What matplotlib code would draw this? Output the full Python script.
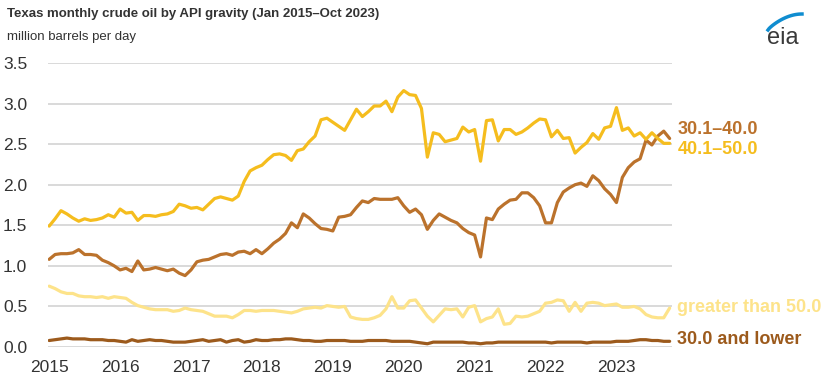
import matplotlib
matplotlib.use("Agg")
import matplotlib.pyplot as plt
import numpy as np
from matplotlib.lines import Line2D

plt.rcParams["font.family"] = ["Liberation Sans", "DejaVu Sans"]

# monthly values, Jan 2015 .. Oct 2023 (million barrels per day)
year_labels = ["2015", "2016", "2017", "2018", "2019", "2020", "2021", "2022", "2023"]

api_40_50 = [
    1.49, 1.58, 1.68, 1.64, 1.59, 1.55, 1.58, 1.56, 1.57, 1.59, 1.63, 1.60,
    1.70, 1.65, 1.66, 1.56, 1.62, 1.62, 1.61, 1.63, 1.64, 1.67, 1.76, 1.74,
    1.71, 1.72, 1.69, 1.76, 1.83, 1.85, 1.83, 1.81, 1.86, 2.04, 2.17, 2.21,
    2.24, 2.31, 2.37, 2.38, 2.36, 2.30, 2.42, 2.44, 2.53, 2.60, 2.80, 2.82,
    2.77, 2.72, 2.67, 2.80, 2.93, 2.84, 2.90, 2.97, 2.97, 3.03, 2.90, 3.08,
    3.16, 3.11, 3.10, 2.94, 2.34, 2.64, 2.62, 2.53, 2.55, 2.57, 2.71, 2.65,
    2.68, 2.29, 2.79, 2.80, 2.54, 2.68, 2.68, 2.62, 2.65, 2.70, 2.76, 2.81,
    2.80, 2.59, 2.67, 2.57, 2.58, 2.39, 2.46, 2.52, 2.63, 2.56, 2.70, 2.72,
    2.95, 2.67, 2.70, 2.60, 2.64, 2.56, 2.64, 2.57, 2.51, 2.51,
]

api_30_40 = [
    1.08, 1.14, 1.15, 1.15, 1.16, 1.20, 1.14, 1.14, 1.13, 1.07, 1.04, 1.00,
    0.95, 0.97, 0.93, 1.06, 0.95, 0.96, 0.98, 0.96, 0.94, 0.96, 0.91, 0.88,
    0.95, 1.05, 1.07, 1.08, 1.11, 1.14, 1.15, 1.13, 1.17, 1.18, 1.15, 1.20,
    1.15, 1.21, 1.28, 1.33, 1.40, 1.53, 1.47, 1.64, 1.59, 1.52, 1.46, 1.45,
    1.43, 1.60, 1.61, 1.63, 1.72, 1.80, 1.78, 1.83, 1.82, 1.82, 1.82, 1.84,
    1.74, 1.66, 1.70, 1.63, 1.45, 1.56, 1.64, 1.60, 1.56, 1.53, 1.46, 1.41,
    1.38, 1.11, 1.59, 1.57, 1.70, 1.76, 1.81, 1.82, 1.90, 1.90, 1.84, 1.74,
    1.53, 1.53, 1.78, 1.91, 1.96, 2.00, 2.02, 1.98, 2.11, 2.05, 1.95, 1.88,
    1.78, 2.09, 2.21, 2.28, 2.32, 2.55, 2.49, 2.60, 2.66, 2.57,
]

api_over_50 = [
    0.75, 0.72, 0.68, 0.66, 0.66, 0.63, 0.62, 0.62, 0.61, 0.62, 0.60, 0.62,
    0.61, 0.60, 0.55, 0.51, 0.49, 0.47, 0.46, 0.46, 0.46, 0.44, 0.45, 0.48,
    0.46, 0.45, 0.44, 0.41, 0.38, 0.38, 0.38, 0.36, 0.40, 0.45, 0.45, 0.44,
    0.45, 0.45, 0.45, 0.44, 0.43, 0.42, 0.44, 0.47, 0.48, 0.49, 0.48, 0.51,
    0.50, 0.49, 0.50, 0.37, 0.35, 0.34, 0.34, 0.36, 0.39, 0.47, 0.62, 0.48,
    0.48, 0.57, 0.58, 0.48, 0.38, 0.31, 0.39, 0.47, 0.46, 0.47, 0.37, 0.49,
    0.51, 0.31, 0.35, 0.37, 0.47, 0.28, 0.29, 0.38, 0.37, 0.38, 0.41, 0.44,
    0.54, 0.55, 0.58, 0.57, 0.44, 0.55, 0.44, 0.54, 0.55, 0.54, 0.51, 0.52,
    0.53, 0.49, 0.49, 0.50, 0.47, 0.40, 0.37, 0.36, 0.36, 0.48,
]

api_30_lower = [
    0.08, 0.09, 0.10, 0.11, 0.10, 0.10, 0.10, 0.09, 0.09, 0.09, 0.08, 0.08,
    0.07, 0.06, 0.09, 0.07, 0.08, 0.09, 0.08, 0.08, 0.07, 0.06, 0.06, 0.06,
    0.07, 0.08, 0.09, 0.07, 0.08, 0.09, 0.06, 0.08, 0.09, 0.06, 0.07, 0.09,
    0.08, 0.08, 0.09, 0.09, 0.10, 0.10, 0.09, 0.08, 0.08, 0.07, 0.07, 0.08,
    0.08, 0.08, 0.08, 0.07, 0.07, 0.07, 0.08, 0.08, 0.08, 0.08, 0.07, 0.07,
    0.07, 0.07, 0.06, 0.05, 0.04, 0.06, 0.06, 0.06, 0.06, 0.06, 0.06, 0.05,
    0.05, 0.04, 0.05, 0.05, 0.06, 0.06, 0.06, 0.06, 0.06, 0.06, 0.06, 0.06,
    0.06, 0.05, 0.06, 0.06, 0.06, 0.06, 0.06, 0.05, 0.06, 0.06, 0.06, 0.06,
    0.07, 0.07, 0.07, 0.08, 0.09, 0.09, 0.08, 0.08, 0.07, 0.07,
]

series = [
    ("greater than 50.0", api_over_50, "#fde38a"),
    ("30.0 and lower", api_30_lower, "#9c5a1c"),
    ("30.1\u201340.0", api_30_40, "#bb722c"),
    ("40.1\u201350.0", api_40_50, "#f5bd1e"),
]
label_y = {"30.1\u201340.0": 2.68, "40.1\u201350.0": 2.43,
           "greater than 50.0": 0.49, "30.0 and lower": 0.09}

months = np.arange(len(api_40_50))

fig = plt.figure(figsize=(8.25, 3.8), dpi=100)
ax = fig.add_axes([48 / 825, 33 / 380, 624 / 825, 284 / 380])

for name, vals, color in series:
    ax.plot(months, vals, color=color, lw=2.3, solid_joinstyle="round",
            solid_capstyle="round", zorder=3)
    ax.text(106.3, label_y[name], name, color=color, fontsize=13,
            fontweight="bold", va="center", ha="left", clip_on=False)

ax.set_xlim(-0.2, 105.4)
ax.set_ylim(0, 3.5)
ax.set_yticks(np.arange(0, 3.51, 0.5))
ax.set_yticklabels([f"{v:.1f}" for v in np.arange(0, 3.51, 0.5)])
ax.set_xticks(np.arange(len(year_labels)) * 12)
ax.set_xticklabels(year_labels)
ax.tick_params(axis="both", length=0, labelsize=12.5, colors="#333333")
ax.tick_params(axis="y", pad=15)
ax.tick_params(axis="x", pad=9)
ax.grid(axis="y", color="#d9d9d9", lw=1.4, zorder=0)
for s in ax.spines.values():
    s.set_visible(False)

fig.text(7 / 825, 1 - 14 / 380, "Texas monthly crude oil by API gravity (Jan 2015\u2013Oct 2023)",
         fontsize=9.5, fontweight="bold", color="#333333", va="center", ha="left")
fig.text(7 / 825, 1 - 37 / 380, "million barrels per day", fontsize=9.5,
         color="#333333", va="center", ha="left")

# eia logo
fig.text(783 / 825, 1 - 38 / 380, "eia", fontsize=17, color="#3a3a3a",
         va="center", ha="center")
t = np.linspace(0, 1, 30)
lx = (768 + 34 * t) / 825
ly = 1 - (30 - 16 * np.sin(t * np.pi / 2) ** 0.8) / 380
fig.add_artist(Line2D(lx, ly, color="#0f8dd0", lw=2.5, transform=fig.transFigure))

fig.savefig("out.png", dpi=100)
